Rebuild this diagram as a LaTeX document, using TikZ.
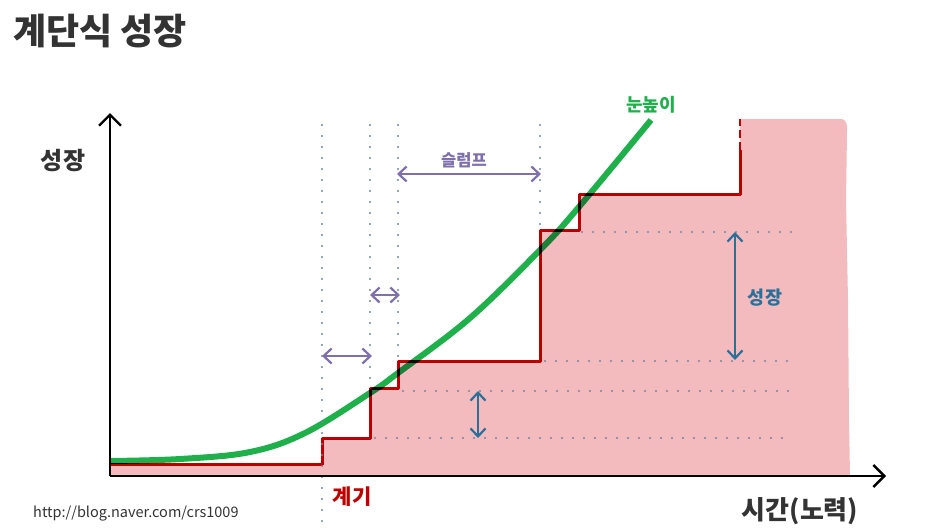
\documentclass[tikz,border=0pt]{standalone}
\usepackage{fontspec}
\setmainfont{Noto Sans CJK KR}
\usetikzlibrary{arrows.meta}

\definecolor{stepred}{HTML}{C00000}
\definecolor{growpink}{HTML}{F4BBBF}
\definecolor{eyegreen}{HTML}{1FAF4B}
\definecolor{slumppurple}{HTML}{7E6FAD}
\definecolor{growblue}{HTML}{2C7099}
\definecolor{dotgray}{HTML}{6F87A0}
\definecolor{textgray}{HTML}{333333}

\tikzset{
  axis/.style={line width=2.6pt, -{Straight Barb[length=11pt,width=22pt,line width=2.4pt]}},
  guide/.style={dotgray, line width=2.2pt, line cap=round, dash pattern=on 0pt off 11pt},
  span/.style={line width=2.2pt, {Straight Barb[length=8pt,width=15pt]}-{Straight Barb[length=8pt,width=15pt]}},
  lbl/.style={font=\bfseries\fontsize{#1}{#1}\selectfont, inner sep=0pt},
}

\begin{document}
\begin{tikzpicture}[x=1pt, y=-1pt, line join=round]
  \useasboundingbox (0,0) rectangle (933,528);

  \coordinate (O) at (110,476);
  \coordinate (ytop) at (110,113);
  \coordinate (xend) at (886,476);

  % eye level
  \draw[eyegreen, line width=6pt] plot[smooth, tension=0.6] coordinates
    {(110,461) (180,459) (250,452) (305,433) (370,393) (398,373) (470,318) (540,250) (578,208) (651,120)};

  % steps
  \begin{scope}[blend mode=multiply]
    \fill[growpink] (110,476) -- (110,464) -- (322,464) -- (322,438) -- (370,438) -- (370,388)
      -- (398,388) -- (398,361) -- (540,361) -- (540,230) -- (579,230) -- (579,194)
      -- (740,194) -- (740,119) -- (842,119) .. controls (846,120) and (848,125) .. (847,132)
      -- (846,200) -- (848,300) -- (849,420) -- (850,476) -- cycle;
    \draw[stepred, line width=3pt] (110,464) -- (322,464) -- (322,438) -- (370,438) -- (370,388)
      -- (398,388) -- (398,361) -- (540,361) -- (540,230) -- (579,230) -- (579,194)
      -- (740,194) -- (740,150);
    \draw[stepred, line width=2.4pt, dash pattern=on 8pt off 4pt] (740,150) -- (740,119);
  \end{scope}

  % guides
  \draw[guide] (322,125) -- (322,528);
  \draw[guide] (370,125) -- (370,386);
  \draw[guide] (398,125) -- (398,359);
  \draw[guide] (540,125) -- (540,228);
  \draw[guide] (582,232) -- (798,232);
  \draw[guide] (545,361) -- (793,361);
  \draw[guide] (403,391) -- (798,391);
  \draw[guide] (375,438) -- (785,438);

  % spans
  \coordinate (k1) at (322,356);
  \coordinate (k2) at (372,356);
  \coordinate (k3) at (370,295);
  \coordinate (k4) at (400,295);
  \coordinate (s1) at (397,174);
  \coordinate (s2) at (541,174);
  \coordinate (g1) at (735,232);
  \coordinate (g2) at (735,360);
  \coordinate (h1) at (478,391);
  \coordinate (h2) at (478,438);
  \draw[span, slumppurple] (k1) -- (k2);
  \draw[span, slumppurple] (k3) -- (k4);
  \draw[span, slumppurple] (s1) -- (s2);
  \draw[span, growblue] (g1) -- (g2);
  \draw[span, growblue] (h1) -- (h2);

  % axes
  \draw[axis] (O) -- (ytop);
  \draw[axis] (O) -- (xend);

  % labels
  \node[lbl=36, textgray, anchor=west] (title) at (13,31) {계단식 성장};
  \node[lbl=24, textgray] (ylab) at (63,161) {성장};
  \node[lbl=26, textgray] (xlab) at (800,511) {시간(노력)};
  \node[font=\fontsize{14.5}{14.5}\selectfont, textgray, anchor=west, inner sep=0pt] (url) at (33,514) {http://blog.naver.com/crs1009};
  \node[lbl=21, stepred] (cause) at (352,497) {계기};
  \node[lbl=18, eyegreen] (eye) at (651,105) {눈높이};
  \node[lbl=16.5, slumppurple] (slump) at (464,160) {슬럼프};
  \node[lbl=18.5, growblue] (grow) at (765,298) {성장};
\end{tikzpicture}
\end{document}
